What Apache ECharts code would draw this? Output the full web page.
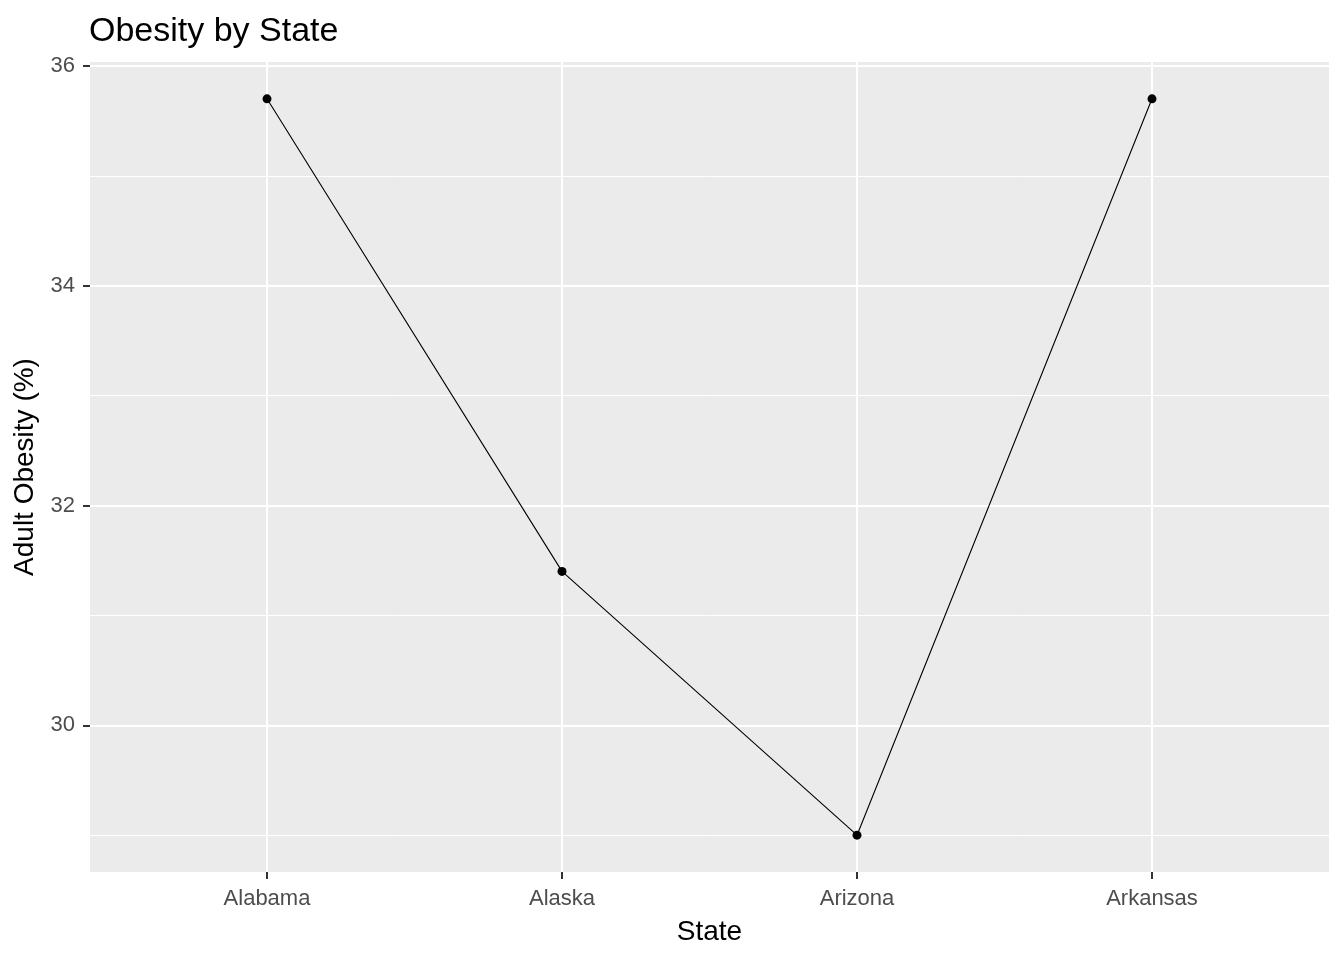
<!DOCTYPE html>
<html lang="en">
<head>
    <meta charset="UTF-8">
    <title>Obesity by State</title>
    <script src="https://cdn.jsdelivr.net/npm/echarts@6/dist/echarts.min.js"></script>
    <style>
        html, body { margin: 0; padding: 0; background: #fff; }
    </style>
</head>
<body>
    <div id="main" style="width: 1344px;height:960px;"></div>
</body>
<script>
    // data
    var states = ['Alabama', 'Alaska', 'Arizona', 'Arkansas'];
    var obesity = [35.7, 31.4, 29.0, 35.7];
    var yTicks = [30, 32, 34, 36];
    var yMinor = [29, 31, 33, 35];
    var xTicks = [1, 2, 3, 4];

    var font = '"Liberation Sans", Arial, sans-serif';

    // ggplot style expansion: 5% on y, 0.6 on discrete x
    var yMin = Math.min.apply(null, obesity);
    var yMax = Math.max.apply(null, obesity);
    var pad = (yMax - yMin) * 0.05;

    var points = [];
    for (var i = 0; i < states.length; i++) {
        points.push([i + 1, obesity[i]]);
    }

    // grid lines through markLine, major and minor
    var gridLines = [];
    for (var v of yMinor) {
        gridLines.push({ yAxis: v, lineStyle: { width: 1 } });
    }
    for (var v of yTicks) {
        gridLines.push({ yAxis: v, lineStyle: { width: 2 } });
    }
    for (var v of xTicks) {
        gridLines.push({ xAxis: v, lineStyle: { width: 2 } });
    }

    var myChart = echarts.init(document.getElementById('main'));
    var option = {
        animation: false,
        title: {
            text: 'Obesity by State',
            left: 84,
            top: 10,
            textStyle: { fontFamily: font, fontSize: 34, fontWeight: 'normal', color: '#000' }
        },
        grid: {
            left: 90,
            right: 15,
            top: 62,
            bottom: 88,
            show: true,
            backgroundColor: '#EBEBEB',
            borderWidth: 0
        },
        xAxis: {
            type: 'value',
            min: 0.4,
            max: states.length + 0.6,
            name: 'State',
            nameLocation: 'middle',
            nameGap: 46,
            nameTextStyle: { fontFamily: font, fontSize: 28, color: '#000' },
            axisLine: { show: false },
            splitLine: { show: false },
            axisTick: {
                show: true,
                customValues: xTicks,
                length: 7,
                lineStyle: { color: '#333333', width: 2 }
            },
            axisLabel: {
                customValues: xTicks,
                margin: 16,
                fontFamily: font,
                fontSize: 22,
                color: '#4D4D4D',
                formatter: function (val) {
                    return states[Math.round(val) - 1] || '';
                }
            }
        },
        yAxis: {
            type: 'value',
            min: yMin - pad,
            max: yMax + pad,
            name: 'Adult Obesity (%)',
            nameLocation: 'middle',
            nameGap: 44,
            nameTextStyle: { fontFamily: font, fontSize: 28, color: '#000' },
            axisLine: { show: false },
            splitLine: { show: false },
            axisTick: {
                show: true,
                customValues: yTicks,
                length: 7,
                lineStyle: { color: '#333333', width: 2 }
            },
            axisLabel: {
                customValues: yTicks,
                margin: 15,
                fontFamily: font,
                fontSize: 22,
                color: '#4D4D4D'
            }
        },
        series: [
            {
                type: 'line',
                z: 3,
                data: points,
                symbol: 'circle',
                symbolSize: 9,
                itemStyle: { color: '#000' },
                lineStyle: { color: '#000', width: 1.1 },
                markLine: {
                    silent: true,
                    z: 1,
                    symbol: 'none',
                    label: { show: false },
                    lineStyle: { color: '#FFFFFF', type: 'solid' },
                    emphasis: { disabled: true },
                    data: gridLines
                }
            }
        ]
    };
    myChart.setOption(option);
</script>
</html>
